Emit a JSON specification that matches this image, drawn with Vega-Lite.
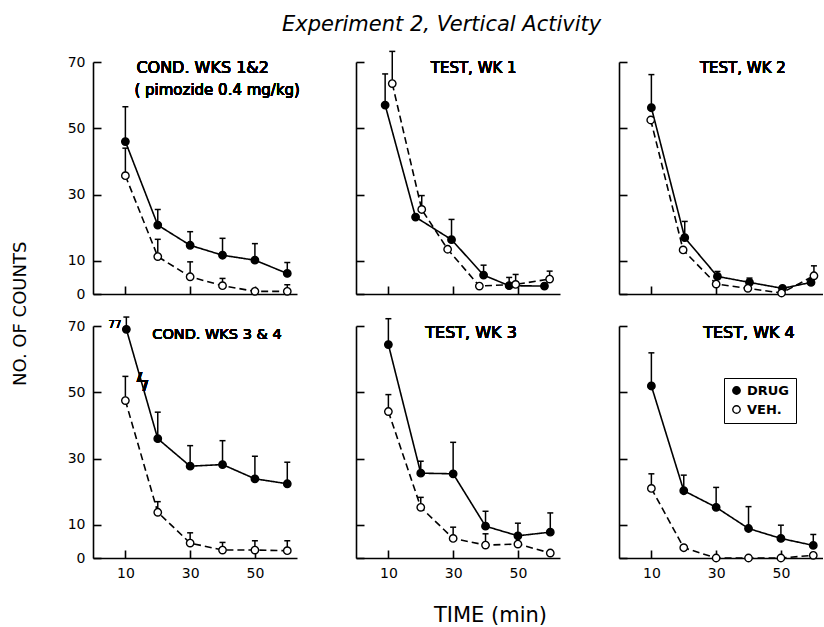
{
  "$schema": "https://vega.github.io/schema/vega-lite/v6.json",
  "padding": {"left": 12, "top": 13, "right": 0, "bottom": 0},
  "config": {
    "view": {"stroke": null},
    "font": "DejaVu Sans",
    "axis": {
      "domainColor": "black", "domainWidth": 1.6, "tickColor": "black", "tickWidth": 1.6,
      "tickSize": -8, "labelPadding": 16, "labelFont": "DejaVu Sans", "labelFontSize": 14,
      "labelColor": "black", "grid": false, "titleFont": "DejaVu Sans", "titleFontSize": 21,
      "titleFontWeight": "normal", "titleColor": "black", "titlePadding": 24
    }
  },
  "title": {"text": "Experiment 2, Vertical Activity", "font": "DejaVu Sans", "fontStyle": "italic", "fontWeight": "normal", "fontSize": 21, "color": "black", "anchor": "middle", "offset": 16, "dx": 24},
  "data": {"values": [
    {"p": "C12", "g": "DRUG", "t": 10, "m": 46, "u": 56.5},
    {"p": "C12", "g": "DRUG", "t": 20, "m": 20.8, "u": 25.5},
    {"p": "C12", "g": "DRUG", "t": 30, "m": 14.7, "u": 18.8},
    {"p": "C12", "g": "DRUG", "t": 40, "m": 11.7, "u": 16.8},
    {"p": "C12", "g": "DRUG", "t": 50, "m": 10.2, "u": 15.2},
    {"p": "C12", "g": "DRUG", "t": 60, "m": 6.2, "u": 9.5},
    {"p": "C12", "g": "VEH.", "t": 10, "m": 35.7, "u": 44},
    {"p": "C12", "g": "VEH.", "t": 20, "m": 11.3, "u": 16.5},
    {"p": "C12", "g": "VEH.", "t": 30, "m": 5.2, "u": 9.7},
    {"p": "C12", "g": "VEH.", "t": 40, "m": 2.5, "u": 4.7},
    {"p": "C12", "g": "VEH.", "t": 50, "m": 0.8, "u": 1.6},
    {"p": "C12", "g": "VEH.", "t": 60, "m": 0.8, "u": 2.8},
    {"p": "W1", "g": "DRUG", "t": 9, "m": 57, "u": 66.4},
    {"p": "W1", "g": "DRUG", "t": 18.4, "m": 23.2, "u": null},
    {"p": "W1", "g": "DRUG", "t": 29.5, "m": 16.4, "u": 22.5},
    {"p": "W1", "g": "DRUG", "t": 39.4, "m": 5.7, "u": 8.7},
    {"p": "W1", "g": "DRUG", "t": 47.3, "m": 2.5, "u": 5},
    {"p": "W1", "g": "DRUG", "t": 58.2, "m": 2.4, "u": null},
    {"p": "W1", "g": "VEH.", "t": 11.2, "m": 63.5, "u": 73.2},
    {"p": "W1", "g": "VEH.", "t": 20.3, "m": 25.5, "u": 29.7},
    {"p": "W1", "g": "VEH.", "t": 28.3, "m": 13.5, "u": null},
    {"p": "W1", "g": "VEH.", "t": 38.1, "m": 2.4, "u": null},
    {"p": "W1", "g": "VEH.", "t": 49.3, "m": 2.9, "u": 5.9},
    {"p": "W1", "g": "VEH.", "t": 59.8, "m": 4.5, "u": 6.9},
    {"p": "W2", "g": "DRUG", "t": 10, "m": 56.2, "u": 66.2},
    {"p": "W2", "g": "DRUG", "t": 20.3, "m": 17, "u": 21.9},
    {"p": "W2", "g": "DRUG", "t": 30.4, "m": 5.3, "u": 6.8},
    {"p": "W2", "g": "DRUG", "t": 40.3, "m": 3.5, "u": 4.8},
    {"p": "W2", "g": "DRUG", "t": 50.5, "m": 1.7, "u": null},
    {"p": "W2", "g": "DRUG", "t": 59.3, "m": 3.5, "u": null},
    {"p": "W2", "g": "VEH.", "t": 9.8, "m": 52.5, "u": null},
    {"p": "W2", "g": "VEH.", "t": 19.8, "m": 13.3, "u": null},
    {"p": "W2", "g": "VEH.", "t": 30, "m": 3, "u": null},
    {"p": "W2", "g": "VEH.", "t": 39.8, "m": 1.7, "u": null},
    {"p": "W2", "g": "VEH.", "t": 50.2, "m": 0.3, "u": null},
    {"p": "W2", "g": "VEH.", "t": 60.2, "m": 5.5, "u": 8.5},
    {"p": "C34", "g": "DRUG", "t": 10.3, "m": 69, "u": 72.7},
    {"p": "C34", "g": "DRUG", "t": 20, "m": 36, "u": 44},
    {"p": "C34", "g": "DRUG", "t": 30, "m": 27.7, "u": 33.9},
    {"p": "C34", "g": "DRUG", "t": 40, "m": 28.2, "u": 35.4},
    {"p": "C34", "g": "DRUG", "t": 50, "m": 23.9, "u": 30.7},
    {"p": "C34", "g": "DRUG", "t": 60, "m": 22.4, "u": 28.9},
    {"p": "C34", "g": "VEH.", "t": 10, "m": 47.5, "u": 54.8},
    {"p": "C34", "g": "VEH.", "t": 20, "m": 13.8, "u": 17},
    {"p": "C34", "g": "VEH.", "t": 30, "m": 4.5, "u": 7.6},
    {"p": "C34", "g": "VEH.", "t": 40, "m": 2.4, "u": 4.7},
    {"p": "C34", "g": "VEH.", "t": 50, "m": 2.4, "u": 5.2},
    {"p": "C34", "g": "VEH.", "t": 60, "m": 2.2, "u": 5.2},
    {"p": "W3", "g": "DRUG", "t": 10, "m": 64.4, "u": 72.2},
    {"p": "W3", "g": "DRUG", "t": 20, "m": 25.6, "u": 29.2},
    {"p": "W3", "g": "DRUG", "t": 30, "m": 25.4, "u": 34.9},
    {"p": "W3", "g": "DRUG", "t": 40, "m": 9.6, "u": 14.1},
    {"p": "W3", "g": "DRUG", "t": 50, "m": 6.7, "u": 10.5},
    {"p": "W3", "g": "DRUG", "t": 60, "m": 7.8, "u": 13.6},
    {"p": "W3", "g": "VEH.", "t": 10, "m": 44.2, "u": 49.3},
    {"p": "W3", "g": "VEH.", "t": 20, "m": 15.3, "u": 18.3},
    {"p": "W3", "g": "VEH.", "t": 30, "m": 5.9, "u": 9.3},
    {"p": "W3", "g": "VEH.", "t": 40, "m": 3.9, "u": 7.3},
    {"p": "W3", "g": "VEH.", "t": 50, "m": 4.2, "u": null},
    {"p": "W3", "g": "VEH.", "t": 60, "m": 1.5, "u": null},
    {"p": "W4", "g": "DRUG", "t": 10, "m": 51.9, "u": 61.9},
    {"p": "W4", "g": "DRUG", "t": 20, "m": 20.3, "u": 25},
    {"p": "W4", "g": "DRUG", "t": 30, "m": 15.3, "u": 21.3},
    {"p": "W4", "g": "DRUG", "t": 40, "m": 8.9, "u": 15.5},
    {"p": "W4", "g": "DRUG", "t": 50, "m": 5.9, "u": 9.9},
    {"p": "W4", "g": "DRUG", "t": 60, "m": 3.8, "u": 7.1},
    {"p": "W4", "g": "VEH.", "t": 10, "m": 21, "u": 25.4},
    {"p": "W4", "g": "VEH.", "t": 20, "m": 3.1, "u": null},
    {"p": "W4", "g": "VEH.", "t": 30, "m": 0, "u": null},
    {"p": "W4", "g": "VEH.", "t": 40, "m": 0, "u": null},
    {"p": "W4", "g": "VEH.", "t": 50, "m": 0, "u": null},
    {"p": "W4", "g": "VEH.", "t": 60, "m": 0.8, "u": null}
  ]},
  "vconcat": [
    {
      "title": {"text": "NO. OF COUNTS", "orient": "left", "anchor": "middle", "font": "DejaVu Sans", "fontSize": 18, "fontWeight": "normal", "color": "black", "offset": 37, "dx": 24},
      "columns": 3,
      "spacing": {"row": 32, "column": 59},
      "bounds": "flush",
      "resolve": {"legend": {"fill": "independent"}},
      "concat": [
        {
          "width": 204, "height": 232,
          "transform": [{"filter": "datum.p === 'C12'"}],
          "encoding": {
            "x": {"field": "t", "type": "quantitative", "scale": {"domain": [0, 63], "nice": false, "zero": false}, "axis": {"values": [10, 30, 50], "labels": false, "title": null}},
            "y": {"field": "m", "type": "quantitative", "scale": {"domain": [0, 70], "nice": false}, "axis": {"values": [0, 10, 30, 50, 70], "title": null}}
          },
          "layer": [
            {"mark": {"type": "line", "color": "black", "strokeWidth": 1.6}, "encoding": {"strokeDash": {"field": "g", "type": "nominal", "scale": {"domain": ["DRUG", "VEH."], "range": [[1, 0], [7, 4]]}, "legend": null}}},
            {"transform": [{"filter": "datum.u != null"}], "mark": {"type": "rule", "color": "black", "strokeWidth": 1.5}, "encoding": {"y2": {"field": "u"}}},
            {"transform": [{"filter": "datum.u != null"}], "mark": {"type": "tick", "orient": "horizontal", "color": "black", "size": 6, "thickness": 1.5, "opacity": 1}, "encoding": {"y": {"field": "u", "type": "quantitative", "title": null}}},
            {"mark": {"type": "point", "shape": "circle", "filled": true, "stroke": "black", "strokeWidth": 1.4, "size": 55, "opacity": 1}, "encoding": {"fill": {"field": "g", "type": "nominal", "scale": {"domain": ["DRUG", "VEH."], "range": ["black", "white"]}, "legend": null}}},
            {"mark": {"type": "text", "align": "left", "baseline": "middle", "fontSize": 16, "color": "black", "text": "COND. WKS 1&2"}, "encoding": {"x": {"datum": 13.4}, "y": {"datum": 68.3}}},
            {"mark": {"type": "text", "align": "left", "baseline": "middle", "fontSize": 15, "color": "black", "text": "( pimozide 0.4 mg/kg)"}, "encoding": {"x": {"datum": 12.8}, "y": {"datum": 61.6}}}
          ]
        },
        {
          "width": 204, "height": 232,
          "transform": [{"filter": "datum.p === 'W1'"}],
          "encoding": {
            "x": {"field": "t", "type": "quantitative", "scale": {"domain": [0, 63], "nice": false, "zero": false}, "axis": {"values": [10, 30, 50], "labels": false, "title": null}},
            "y": {"field": "m", "type": "quantitative", "scale": {"domain": [0, 70], "nice": false}, "axis": {"values": [0, 10, 30, 50, 70], "labels": false, "title": null}}
          },
          "layer": [
            {"mark": {"type": "line", "color": "black", "strokeWidth": 1.6}, "encoding": {"strokeDash": {"field": "g", "type": "nominal", "scale": {"domain": ["DRUG", "VEH."], "range": [[1, 0], [7, 4]]}, "legend": null}}},
            {"transform": [{"filter": "datum.u != null"}], "mark": {"type": "rule", "color": "black", "strokeWidth": 1.5}, "encoding": {"y2": {"field": "u"}}},
            {"transform": [{"filter": "datum.u != null"}], "mark": {"type": "tick", "orient": "horizontal", "color": "black", "size": 6, "thickness": 1.5, "opacity": 1}, "encoding": {"y": {"field": "u", "type": "quantitative", "title": null}}},
            {"mark": {"type": "point", "shape": "circle", "filled": true, "stroke": "black", "strokeWidth": 1.4, "size": 55, "opacity": 1}, "encoding": {"fill": {"field": "g", "type": "nominal", "scale": {"domain": ["DRUG", "VEH."], "range": ["black", "white"]}, "legend": null}}},
            {"mark": {"type": "text", "align": "left", "baseline": "middle", "fontSize": 15, "color": "black", "text": "TEST, WK 1"}, "encoding": {"x": {"datum": 23.1}, "y": {"datum": 68.3}}}
          ]
        },
        {
          "width": 204, "height": 232,
          "transform": [{"filter": "datum.p === 'W2'"}],
          "encoding": {
            "x": {"field": "t", "type": "quantitative", "scale": {"domain": [0, 63], "nice": false, "zero": false}, "axis": {"values": [10, 30, 50], "labels": false, "title": null}},
            "y": {"field": "m", "type": "quantitative", "scale": {"domain": [0, 70], "nice": false}, "axis": {"values": [0, 10, 30, 50, 70], "labels": false, "title": null}}
          },
          "layer": [
            {"mark": {"type": "line", "color": "black", "strokeWidth": 1.6}, "encoding": {"strokeDash": {"field": "g", "type": "nominal", "scale": {"domain": ["DRUG", "VEH."], "range": [[1, 0], [7, 4]]}, "legend": null}}},
            {"transform": [{"filter": "datum.u != null"}], "mark": {"type": "rule", "color": "black", "strokeWidth": 1.5}, "encoding": {"y2": {"field": "u"}}},
            {"transform": [{"filter": "datum.u != null"}], "mark": {"type": "tick", "orient": "horizontal", "color": "black", "size": 6, "thickness": 1.5, "opacity": 1}, "encoding": {"y": {"field": "u", "type": "quantitative", "title": null}}},
            {"mark": {"type": "point", "shape": "circle", "filled": true, "stroke": "black", "strokeWidth": 1.4, "size": 55, "opacity": 1}, "encoding": {"fill": {"field": "g", "type": "nominal", "scale": {"domain": ["DRUG", "VEH."], "range": ["black", "white"]}, "legend": null}}},
            {"mark": {"type": "text", "align": "left", "baseline": "middle", "fontSize": 15, "color": "black", "text": "TEST, WK 2"}, "encoding": {"x": {"datum": 25}, "y": {"datum": 68.3}}}
          ]
        },
        {
          "width": 204, "height": 232,
          "transform": [{"filter": "datum.p === 'C34'"}],
          "encoding": {
            "x": {"field": "t", "type": "quantitative", "scale": {"domain": [0, 63], "nice": false, "zero": false}, "axis": {"values": [10, 30, 50], "title": null}},
            "y": {"field": "m", "type": "quantitative", "scale": {"domain": [0, 70], "nice": false}, "axis": {"values": [0, 10, 30, 50, 70], "title": null}}
          },
          "layer": [
            {"mark": {"type": "line", "color": "black", "strokeWidth": 1.6}, "encoding": {"strokeDash": {"field": "g", "type": "nominal", "scale": {"domain": ["DRUG", "VEH."], "range": [[1, 0], [7, 4]]}, "legend": null}}},
            {"transform": [{"filter": "datum.u != null"}], "mark": {"type": "rule", "color": "black", "strokeWidth": 1.5}, "encoding": {"y2": {"field": "u"}}},
            {"transform": [{"filter": "datum.u != null"}], "mark": {"type": "tick", "orient": "horizontal", "color": "black", "size": 6, "thickness": 1.5, "opacity": 1}, "encoding": {"y": {"field": "u", "type": "quantitative", "title": null}}},
            {"mark": {"type": "point", "shape": "circle", "filled": true, "stroke": "black", "strokeWidth": 1.4, "size": 55, "opacity": 1}, "encoding": {"fill": {"field": "g", "type": "nominal", "scale": {"domain": ["DRUG", "VEH."], "range": ["black", "white"]}, "legend": null}}},
            {"mark": {"type": "text", "align": "left", "baseline": "middle", "fontSize": 14.5, "color": "black", "text": "COND. WKS 3 & 4"}, "encoding": {"x": {"datum": 18.3}, "y": {"datum": 67.3}}},
            {"mark": {"type": "text", "align": "left", "baseline": "middle", "fontSize": 10, "color": "black", "text": "77"}, "encoding": {"x": {"datum": 4.8}, "y": {"datum": 70.4}}},
            {"mark": {"type": "text", "align": "center", "baseline": "middle", "fontSize": 24, "color": "black", "text": "ϟ"}, "encoding": {"x": {"datum": 15.3}, "y": {"datum": 52.5}}}
          ]
        },
        {
          "width": 204, "height": 232,
          "transform": [{"filter": "datum.p === 'W3'"}],
          "encoding": {
            "x": {"field": "t", "type": "quantitative", "scale": {"domain": [0, 63], "nice": false, "zero": false}, "axis": {"values": [10, 30, 50], "title": "TIME (min)", "titleX": 134, "titleAlign": "center"}},
            "y": {"field": "m", "type": "quantitative", "scale": {"domain": [0, 70], "nice": false}, "axis": {"values": [0, 10, 30, 50, 70], "labels": false, "title": null}}
          },
          "layer": [
            {"mark": {"type": "line", "color": "black", "strokeWidth": 1.6}, "encoding": {"strokeDash": {"field": "g", "type": "nominal", "scale": {"domain": ["DRUG", "VEH."], "range": [[1, 0], [7, 4]]}, "legend": null}}},
            {"transform": [{"filter": "datum.u != null"}], "mark": {"type": "rule", "color": "black", "strokeWidth": 1.5}, "encoding": {"y2": {"field": "u"}}},
            {"transform": [{"filter": "datum.u != null"}], "mark": {"type": "tick", "orient": "horizontal", "color": "black", "size": 6, "thickness": 1.5, "opacity": 1}, "encoding": {"y": {"field": "u", "type": "quantitative", "title": null}}},
            {"mark": {"type": "point", "shape": "circle", "filled": true, "stroke": "black", "strokeWidth": 1.4, "size": 55, "opacity": 1}, "encoding": {"fill": {"field": "g", "type": "nominal", "scale": {"domain": ["DRUG", "VEH."], "range": ["black", "white"]}, "legend": null}}},
            {"mark": {"type": "text", "align": "left", "baseline": "middle", "fontSize": 16, "color": "black", "text": "TEST, WK 3"}, "encoding": {"x": {"datum": 21.4}, "y": {"datum": 67.9}}}
          ]
        },
        {
          "width": 204, "height": 232,
          "transform": [{"filter": "datum.p === 'W4'"}],
          "encoding": {
            "x": {"field": "t", "type": "quantitative", "scale": {"domain": [0, 63], "nice": false, "zero": false}, "axis": {"values": [10, 30, 50], "title": null}},
            "y": {"field": "m", "type": "quantitative", "scale": {"domain": [0, 70], "nice": false}, "axis": {"values": [0, 10, 30, 50, 70], "labels": false, "title": null}}
          },
          "layer": [
            {"mark": {"type": "line", "color": "black", "strokeWidth": 1.6}, "encoding": {"strokeDash": {"field": "g", "type": "nominal", "scale": {"domain": ["DRUG", "VEH."], "range": [[1, 0], [7, 4]]}, "legend": null}}},
            {"transform": [{"filter": "datum.u != null"}], "mark": {"type": "rule", "color": "black", "strokeWidth": 1.5}, "encoding": {"y2": {"field": "u"}}},
            {"transform": [{"filter": "datum.u != null"}], "mark": {"type": "tick", "orient": "horizontal", "color": "black", "size": 6, "thickness": 1.5, "opacity": 1}, "encoding": {"y": {"field": "u", "type": "quantitative", "title": null}}},
            {"mark": {"type": "point", "shape": "circle", "filled": true, "stroke": "black", "strokeWidth": 1.4, "size": 55, "opacity": 1}, "encoding": {"fill": {"field": "g", "type": "nominal", "scale": {"domain": ["DRUG", "VEH."], "range": ["black", "white"]}, "legend": {"orient": "none", "legendX": 105, "legendY": 52, "title": null, "strokeColor": "black", "padding": 6, "symbolType": "circle", "symbolSize": 55, "symbolStrokeColor": "black", "symbolStrokeWidth": 1.4, "labelFont": "DejaVu Sans", "labelFontSize": 13, "labelFontWeight": "bold", "labelColor": "black", "rowPadding": 4}}}},
            {"mark": {"type": "text", "align": "left", "baseline": "middle", "fontSize": 16, "color": "black", "text": "TEST, WK 4"}, "encoding": {"x": {"datum": 26}, "y": {"datum": 67.9}}}
          ]
        }
      ]
    }
  ]
}
